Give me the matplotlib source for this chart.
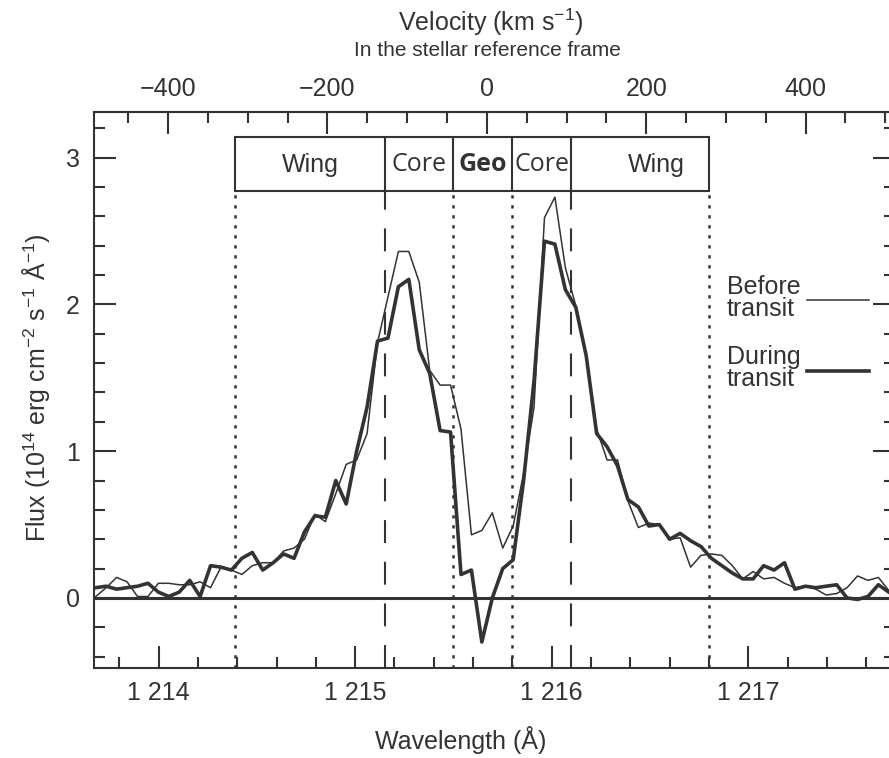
import numpy as np
import matplotlib
matplotlib.use('Agg')
import matplotlib.pyplot as plt
from matplotlib.patches import Rectangle
from matplotlib.ticker import MultipleLocator

plt.rcParams['font.family'] = ['Liberation Sans', 'DejaVu Sans']
plt.rcParams['mathtext.fontset'] = 'custom'
plt.rcParams['mathtext.rm'] = 'Liberation Sans'
plt.rcParams['mathtext.it'] = 'Liberation Sans:italic'
plt.rcParams['mathtext.bf'] = 'Liberation Sans:bold'

# spectrum pixel grid (Angstrom)
lam_start = 1213.68
lam_step = 0.0531

# Lyman-alpha flux, 1e-14 erg/cm2/s/A
flux_before = [0.01, 0.07, 0.14, 0.11, 0.01, 0.01, 0.10, 0.10, 0.09, 0.09,
               0.11, 0.07, 0.21, 0.19, 0.16, 0.22, 0.24, 0.24, 0.32, 0.34,
               0.40, 0.57, 0.52, 0.71, 0.91, 0.94, 1.12, 1.74, 2.05, 2.36,
               2.36, 2.15, 1.55, 1.45, 1.45, 1.15, 0.43, 0.46, 0.58, 0.34,
               0.49, 0.85, 1.30, 2.59, 2.73, 2.25, 1.99, 1.65, 1.15, 0.94,
               0.94, 0.66, 0.48, 0.51, 0.50, 0.40, 0.41, 0.21, 0.29, 0.30,
               0.29, 0.22, 0.13, 0.18, 0.13, 0.14, 0.10, 0.07, 0.08, 0.06,
               0.02, 0.03, 0.07, 0.15, 0.12, 0.14, 0.05]
flux_during = [0.07, 0.08, 0.06, 0.07, 0.08, 0.10, 0.04, 0.01, 0.04, 0.12,
               0.01, 0.22, 0.21, 0.19, 0.27, 0.31, 0.19, 0.24, 0.30, 0.27,
               0.45, 0.56, 0.55, 0.80, 0.64, 1.00, 1.30, 1.75, 1.77, 2.12,
               2.17, 1.69, 1.53, 1.14, 1.13, 0.16, 0.19, -0.30, 0.00, 0.20,
               0.26, 0.80, 1.48, 2.43, 2.41, 2.10, 1.98, 1.65, 1.12, 1.03,
               0.90, 0.67, 0.62, 0.49, 0.50, 0.40, 0.44, 0.39, 0.35, 0.27,
               0.22, 0.17, 0.13, 0.13, 0.22, 0.19, 0.24, 0.06, 0.08, 0.07,
               0.08, 0.09, 0.00, -0.01, 0.01, 0.09, 0.04]

# spectral regions
region_edges = [1214.39, 1215.15, 1215.50, 1215.80, 1216.10, 1216.80]
region_names = ['Wing', 'Core', 'Geo', 'Core', 'Wing']
edge_styles = ['dotted', 'dashed', 'dotted', 'dotted', 'dashed', 'dotted']

wave_ticks = [1214, 1215, 1216, 1217]
wave_ticklabels = ['1 214', '1 215', '1 216', '1 217']
vel_ticks = [-400, -200, 0, 200, 400]
yticks = [0, 1, 2, 3]

LYA = 1215.67
C_KMS = 299792.458


def lam2vel(lam):
    return (np.asarray(lam) - LYA) / LYA * C_KMS


def vel2lam(v):
    return LYA * (1 + np.asarray(v) / C_KMS)


wavelength = lam_start + lam_step * np.arange(len(flux_during))

INK = '#333333'
fig = plt.figure(figsize=(8.89, 7.58), dpi=100)
ax = fig.add_axes([94 / 889, 90 / 758, 801 / 889, 556 / 758])
ax.set_xlim(1213.671, 1217.747)
ax.set_ylim(-0.477, 3.31)
ybot = ax.get_ylim()[0]

ax.axhline(0, color=INK, lw=2.2, zorder=2)
ax.plot(wavelength, flux_before, color=INK, lw=1.1, zorder=3)
ax.plot(wavelength, flux_during, color=INK, lw=2.6, zorder=4)

# region box on top
box_lo, box_hi = 2.775, 3.14
ax.add_patch(Rectangle((region_edges[0], box_lo), region_edges[-1] - region_edges[0],
                       box_hi - box_lo, facecolor='white', edgecolor=INK, lw=1.5, zorder=5))
ax.vlines(region_edges[1:-1], box_lo, box_hi, color=INK, lw=1.5, zorder=6)
for e, st in zip(region_edges, edge_styles):
    if st == 'dotted':
        ax.plot([e, e], [ybot, box_lo], color=INK, lw=1.8, linestyle=(0, (1.3, 2.7)), zorder=1)
    else:
        ax.plot([e, e], [ybot, box_lo], color=INK, lw=1.5, linestyle=(0, (11, 9)), zorder=1)

for i, name in enumerate(region_names):
    xc = 0.5 * (region_edges[i] + region_edges[i + 1])
    if i == len(region_names) - 1:
        xc += 0.08
    if name == 'Wing':
        ax.text(xc, 2.95, name, ha='center', va='center', fontsize=18, color=INK, zorder=7)
    else:
        ax.text(xc, 2.95, name, ha='center', va='center', fontsize=18, color=INK,
                family=['Open Sans', 'DejaVu Sans'],
                fontweight='bold' if name == 'Geo' else 'normal', zorder=7)

# legend drawn by hand
ax.text(0.79, 0.666, 'Before\ntransit', transform=ax.transAxes, ha='left', va='center',
        fontsize=18, color=INK, linespacing=0.9)
ax.plot([0.890, 0.967], [0.662, 0.662], transform=ax.transAxes, color=INK, lw=1.1)
ax.text(0.79, 0.540, 'During\ntransit', transform=ax.transAxes, ha='left', va='center',
        fontsize=18, color=INK, linespacing=0.9)
ax.plot([0.890, 0.967], [0.534, 0.534], transform=ax.transAxes, color=INK, lw=2.6)

# axes and ticks
ax.set_xticks(wave_ticks)
ax.set_xticklabels(wave_ticklabels)
ax.xaxis.set_minor_locator(MultipleLocator(0.2))
ax.set_yticks(yticks)
ax.yaxis.set_minor_locator(MultipleLocator(0.2))
ax.tick_params(which='both', direction='in', top=False, right=True, width=1.5,
               color=INK, labelcolor=INK, labelsize=18)
ax.tick_params(which='major', length=16)
ax.tick_params(which='minor', length=8)
ax.tick_params(axis='x', pad=9)
ax.tick_params(axis='y', pad=10)
for sp in ax.spines.values():
    sp.set_linewidth(1.5)
    sp.set_color(INK)

secax = ax.secondary_xaxis('top', functions=(lam2vel, vel2lam))
secax.set_xticks(vel_ticks)
secax.xaxis.set_minor_locator(MultipleLocator(50))
secax.tick_params(which='both', direction='in', width=1.5, color=INK,
                  labelcolor=INK, labelsize=18, pad=8)
secax.tick_params(which='major', length=16)
secax.tick_params(which='minor', length=8)
secax.spines['top'].set_linewidth(1.5)
secax.spines['top'].set_color(INK)

fig.text(0.552, 0.971, r'Velocity (km s$^{-1}$)', ha='center', va='center',
         fontsize=18, color=INK)
fig.text(0.548, 0.933, 'In the stellar reference frame', ha='center', va='center',
         fontsize=15, color=INK)
fig.text(0.518, 0.024, 'Wavelength (Å)', ha='center', va='center', fontsize=18, color=INK)
fig.text(0.040, 0.488, r'Flux (10$^{14}$ erg cm$^{-2}$ s$^{-1}$ Å$^{-1}$)', rotation=90,
         ha='center', va='center', fontsize=18, color=INK)

fig.savefig('out.png', dpi=100)
